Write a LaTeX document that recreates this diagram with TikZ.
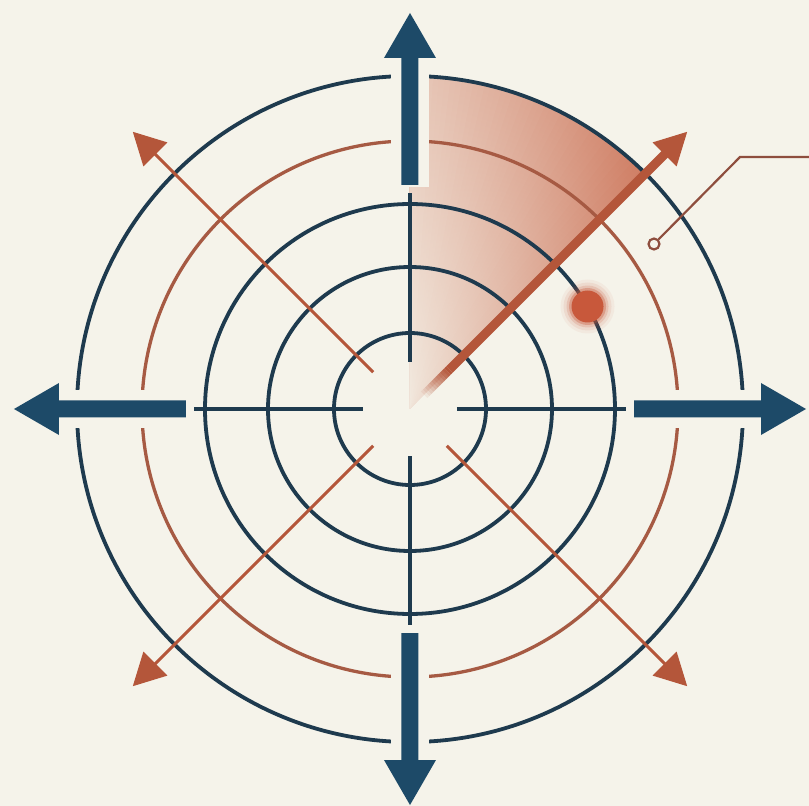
\documentclass[tikz,border=0pt]{standalone}
\usetikzlibrary{arrows.meta}
\definecolor{bgc}{HTML}{F5F3EA}
\definecolor{navyline}{HTML}{1E3A4E}
\definecolor{arrowc}{HTML}{1D4A68}
\definecolor{orangeline}{HTML}{B4563A}
\definecolor{orangering}{HTML}{A65A43}
\definecolor{dotc}{HTML}{C8583B}
\definecolor{calloutc}{HTML}{8E4E3E}
\definecolor{sectorc}{HTML}{CF7D63}
\begin{document}
\begin{tikzpicture}[x=1pt,y=1pt,
  navyring/.style={draw=navyline, line width=3.8pt},
  orangeringstyle/.style={draw=orangering, line width=3.3pt},
  crossline/.style={draw=navyline, line width=3.1pt},
  diagline/.style={draw=orangeline, line width=2.9pt},
  bigarrow/.style={fill=arrowc},
  halo/.style={fill=bgc},
  calloutline/.style={draw=calloutc, line width=2.2pt}]
\useasboundingbox (-410,-397) rectangle (399,409);
\fill[bgc] (-410,-397) rectangle (399,409);
\coordinate (O) at (0,0);
% sweep sector: opaque slices, each a radial shading, fading toward 90 degrees
\foreach \k in {0,...,44}{
  \pgfmathtruncatemacro\po{100-1.45*\k}
  \pgfmathtruncatemacro\pi{15-0.15*\k}
  \begin{scope}
    \clip (O) -- ({45+\k}:333) arc[start angle={45+\k}, end angle=90, radius=333] -- cycle;
    \shade[inner color=sectorc!\pi!bgc, outer color=sectorc!\po!bgc] (O) circle (333pt);
  \end{scope}}
% rings
\draw[navyring] (O) circle (76pt);
\draw[navyring] (O) circle (142pt);
\draw[navyring] (O) circle (205pt);
\draw[orangeringstyle] (O) circle (268pt);
\draw[navyring] (O) circle (333pt);
% crosshair lines
\foreach \a in {0,90,180,270}
  \draw[crossline] (\a:47) -- (\a:216);
% diagonal thin arrows
\foreach \a in {135,225,315}{
  \begin{scope}[rotate=\a]
    \draw[diagline] (52,0) -- (364,0);
    \fill[orangeline] (392,0) -- (360,17) -- (360,-17) -- cycle;
  \end{scope}}
% thick sweep line
\begin{scope}[rotate=45]
  \foreach \i in {0,...,11}
    \fill[orangeline, fill opacity={(\i+1)/12}] ({20+3*\i},-4.5) rectangle ({23+3*\i},4.5);
  \fill[orangeline] (56,-4.5) rectangle (362,4.5);
  \fill[orangeline] (392,0) -- (360,17) -- (360,-17) -- cycle;
\end{scope}
% big navy arrows
\foreach \a in {0,90,180,270}{
  \begin{scope}[rotate=\a]
    \fill[halo] (222,-19) rectangle (362,19);
    \fill[bigarrow] (224,-8.5) -- (351,-8.5) -- (351,-26) -- (396,0) -- (351,26) -- (351,8.5) -- (224,8.5) -- cycle;
  \end{scope}}
% target dot
\coordinate (D) at (30:205);
\foreach \r/\o in {27/0.06, 24/0.1, 21/0.18, 18.5/0.35}
  \fill[dotc, opacity=\o] (D) circle (\r pt);
\fill[dotc] (D) circle (16pt);
% callout
\node[circle, draw=calloutc, line width=2.2pt, minimum size=11pt, inner sep=0pt] (ct) at (244,165) {};
\coordinate (cc) at (330,252);
\coordinate (ce) at (399,252);
\draw[calloutline] (ct) -- (cc) -- (ce);
\end{tikzpicture}
\end{document}
